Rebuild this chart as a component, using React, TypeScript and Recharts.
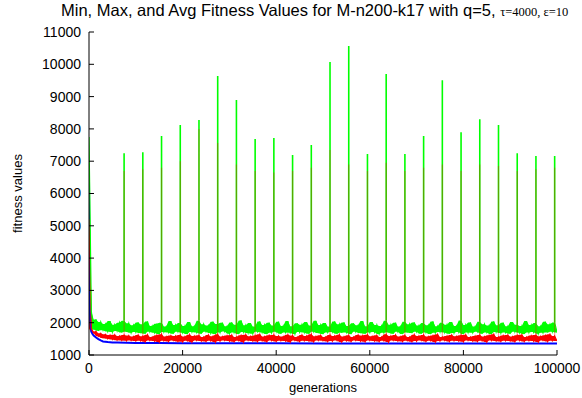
import { ComposedChart, Line, Area, XAxis, YAxis } from 'recharts';

// fitness samples every GEN_STEP generations
const GEN_STEP = 500;

const maxFitness = [
  7750, 2350, 1790, 2100, 1750, 2020, 1770, 1960, 1730, 2050, 1710, 1940, 1740, 2000, 1700, 2060, 1720, 1980, 1690, 1920,
  1710, 2010, 1680, 1950, 1660, 2040, 1720, 1900, 1690, 1970, 1650, 2000, 1710, 1880, 1700, 2050, 1660, 1930, 1720, 1990,
  1690, 1900, 1650, 2020, 1710, 1890, 1700, 2060, 1660, 1950, 1720, 1910, 1680, 2030, 1650, 1960, 1700, 2000, 1730, 1890,
  1660, 2010, 1700, 1940, 1650, 2070, 1710, 1920, 1680, 1990, 1660, 1880, 1720, 2040, 1700, 1930, 1650, 2000, 1690, 1910,
  1720, 2030, 1660, 1900, 1700, 2050, 1690, 1890, 1650, 1980, 1710, 1940, 1700, 2020, 1660, 1910, 1720, 2060, 1680, 1930,
  1650, 1990, 1700, 1880, 1710, 2040, 1660, 1950, 1690, 2010, 1700, 1900, 1650, 1980, 1720, 1920, 1680, 2050, 1660, 1890,
  1700, 2020, 1710, 1930, 1650, 1900, 1690, 2060, 1700, 1940, 1660, 2000, 1720, 1880, 1650, 2030, 1700, 1950, 1680, 2010,
  1720, 1910, 1660, 1990, 1700, 1920, 1650, 2040, 1690, 1890, 1710, 2000, 1700, 1940, 1660, 2020, 1680, 1900, 1710, 2070,
  1650, 1930, 1700, 2010, 1690, 1880, 1720, 2030, 1660, 1950, 1700, 1910, 1650, 2040, 1710, 1920, 1680, 2000, 1700, 1890,
  1660, 2020, 1720, 1940, 1690, 1900, 1650, 2050, 1700, 1930, 1710, 1990, 1660, 1890, 1690, 2030, 1700, 1950, 1720, 2010,
  1700,
];

const avgFitness = [
  5200, 1820, 1680, 1730, 1580, 1670, 1530, 1640, 1500, 1620, 1480, 1630, 1460, 1590, 1450, 1620, 1440, 1600, 1450, 1570,
  1430, 1620, 1440, 1580, 1410, 1630, 1450, 1560, 1430, 1610, 1400, 1640, 1440, 1570, 1420, 1600, 1450, 1590, 1420, 1620,
  1410, 1570, 1440, 1630, 1400, 1590, 1450, 1610, 1430, 1560, 1420, 1620, 1440, 1580, 1400, 1640, 1430, 1570, 1450, 1600,
  1430, 1620, 1410, 1560, 1440, 1610, 1400, 1630, 1450, 1580, 1430, 1600, 1420, 1640, 1440, 1570, 1410, 1610, 1450, 1620,
  1420, 1590, 1440, 1570, 1430, 1630, 1400, 1600, 1450, 1560, 1420, 1620, 1440, 1590, 1430, 1640, 1410, 1580, 1450, 1610,
  1440, 1560, 1420, 1620, 1430, 1590, 1450, 1630, 1400, 1570, 1440, 1610, 1420, 1560, 1450, 1620, 1430, 1600, 1410, 1630,
  1450, 1580, 1430, 1610, 1420, 1560, 1440, 1640, 1400, 1590, 1450, 1620, 1430, 1570, 1420, 1610, 1440, 1560, 1410, 1630,
  1430, 1590, 1450, 1620, 1420, 1570, 1440, 1600, 1400, 1640, 1430, 1560, 1450, 1590, 1420, 1620, 1440, 1580, 1430, 1610,
  1410, 1630, 1450, 1560, 1430, 1590, 1420, 1620, 1440, 1570, 1400, 1610, 1450, 1640, 1430, 1560, 1420, 1600, 1440, 1620,
  1430, 1570, 1410, 1610, 1450, 1630, 1420, 1560, 1440, 1600, 1430, 1620, 1400, 1580, 1450, 1610, 1420, 1640, 1440, 1590,
  1430,
];

const minGens = [
  0, 100, 250, 500, 750, 1000, 1500, 2000, 2500, 3000, 4000, 5000, 6000, 8000, 10000,
  15000, 20000, 30000, 40000, 50000, 60000, 70000, 80000, 90000, 100000,
];
const minFitness = [
  6400, 3300, 2100, 1720, 1650, 1600, 1540, 1490, 1450, 1420, 1400, 1390, 1385, 1378, 1372,
  1368, 1365, 1362, 1360, 1358, 1357, 1356, 1355, 1354, 1353,
];

// perturbation spikes every 4000 generations
const spikeGens = [
  7500, 11500, 15500, 19500, 23500, 27500, 31500, 35500, 39500, 43500, 47500, 51500,
  55500, 59500, 63500, 67500, 71500, 75500, 79500, 83500, 87500, 91500, 95500, 99500,
];
const maxSpikes = [
  7250, 7280, 7780, 8120, 8275, 9640, 8895, 7690, 7720, 7190, 7500, 10070,
  10570, 7220, 9700, 7220, 7780, 9510, 7900, 8300, 8120, 7250, 7160, 7160,
];
const avgSpikes = [
  6700, 6750, 6800, 7000, 8000, 7560, 6900, 6700, 6650, 6700, 6800, 7350,
  6900, 6700, 6950, 6700, 6800, 6900, 6700, 6900, 6850, 6700, 6750, 6800,
];

const xTicks = [0, 20000, 40000, 60000, 80000, 100000];
const yTicks = [1000, 2000, 3000, 4000, 5000, 6000, 7000, 8000, 9000, 10000, 11000];

const FONT = '"Liberation Sans", Arial, Helvetica, sans-serif';

// the noisy series sweep between neighbouring samples; keep that swept range for a fill
const sweep = (vals: number[], i: number): [number, number] => {
  const a = vals[i];
  const b = i + 1 < vals.length ? vals[i + 1] : a;
  return [Math.min(a, b), Math.max(a, b)];
};

const bandData = maxFitness.map((v, i) => ({
  gen: i * GEN_STEP,
  max: v,
  avg: avgFitness[i],
  maxRange: sweep(maxFitness, i),
  avgRange: sweep(avgFitness, i),
}));
const minData = minGens.map((g, i) => ({ gen: g, min: minFitness[i] }));

// each spike is a vertical segment from the band up to the peak, split by a null
const spikeSegments = (base: number[], peaks: number[]) =>
  spikeGens.flatMap((g, i) => [
    { gen: g, v: base[g / GEN_STEP] },
    { gen: g, v: peaks[i] },
    { gen: g, v: null },
  ]);
const maxSpikeData = spikeSegments(maxFitness, maxSpikes);
const avgSpikeData = spikeSegments(avgFitness, avgSpikes);

const tickStyle = { fontSize: 14, fill: '#000', fontFamily: FONT };

export default function App() {
  return (
    <div style={{ position: 'absolute', left: 0, top: 0, width: 582, height: 398, background: '#fff', fontFamily: FONT }}>
      <div style={{ position: 'absolute', left: 61, top: 1, whiteSpace: 'nowrap', fontSize: 16.5, color: '#000' }}>
        Min, Max, and Avg Fitness Values for M-n200-k17 with q=5,{' '}
        <span style={{ fontFamily: '"Liberation Serif", "Times New Roman", serif', fontSize: 12.5 }}>τ=4000, ε=10</span>
      </div>
      <ComposedChart width={582} height={398} data={bandData} margin={{ top: 32, right: 25, bottom: 13, left: 29 }}>
        <XAxis
          dataKey="gen"
          type="number"
          domain={[0, 100000]}
          ticks={xTicks}
          allowDataOverflow
          height={30}
          tickSize={-5}
          tickMargin={13}
          tick={tickStyle}
          stroke="#000"
          label={{
            content: ({ viewBox }: any) => (
              <text x={viewBox.x + viewBox.width / 2} y={392} textAnchor="middle" fontSize={13} fontFamily={FONT} fill="#000">
                generations
              </text>
            ),
          }}
        />
        <XAxis
          xAxisId="top"
          orientation="top"
          type="number"
          domain={[0, 100000]}
          ticks={xTicks}
          height={0}
          tickSize={-5}
          tick={false}
          stroke="#000"
        />
        <YAxis
          type="number"
          domain={[1000, 11000]}
          ticks={yTicks}
          allowDataOverflow
          width={60}
          tickSize={-5}
          tickMargin={13}
          tick={tickStyle}
          stroke="#000"
          label={{
            content: ({ viewBox }: any) => {
              const cx = viewBox.x - 12;
              const cy = viewBox.y + viewBox.height / 2;
              return (
                <text x={cx} y={cy} transform={`rotate(-90 ${cx} ${cy})`} textAnchor="middle" dominantBaseline="central" fontSize={13} fontFamily={FONT} fill="#000">
                  fitness values
                </text>
              );
            },
          }}
        />
        <YAxis
          yAxisId="right"
          orientation="right"
          type="number"
          domain={[1000, 11000]}
          ticks={yTicks}
          width={0}
          tickSize={-5}
          tick={false}
          stroke="#000"
        />
        <Line data={minData} dataKey="min" type="linear" stroke="#0000ff" strokeWidth={2} dot={false} isAnimationActive={false} />
        <Area dataKey="avgRange" type="linear" stroke="none" fill="#ff0000" fillOpacity={1} isAnimationActive={false} />
        <Line dataKey="avg" type="linear" stroke="#ff0000" strokeWidth={1.2} dot={false} isAnimationActive={false} />
        <Area dataKey="maxRange" type="linear" stroke="none" fill="#00ff00" fillOpacity={1} isAnimationActive={false} />
        <Line dataKey="max" type="linear" stroke="#00ff00" strokeWidth={1.2} dot={false} isAnimationActive={false} />
        <Line data={maxSpikeData} dataKey="v" type="linear" stroke="#00ff00" strokeWidth={1.6} dot={false} isAnimationActive={false} />
        <Line data={avgSpikeData} dataKey="v" type="linear" stroke="#ff0000" strokeOpacity={0.35} strokeWidth={1.2} dot={false} isAnimationActive={false} />
      </ComposedChart>
    </div>
  );
}
